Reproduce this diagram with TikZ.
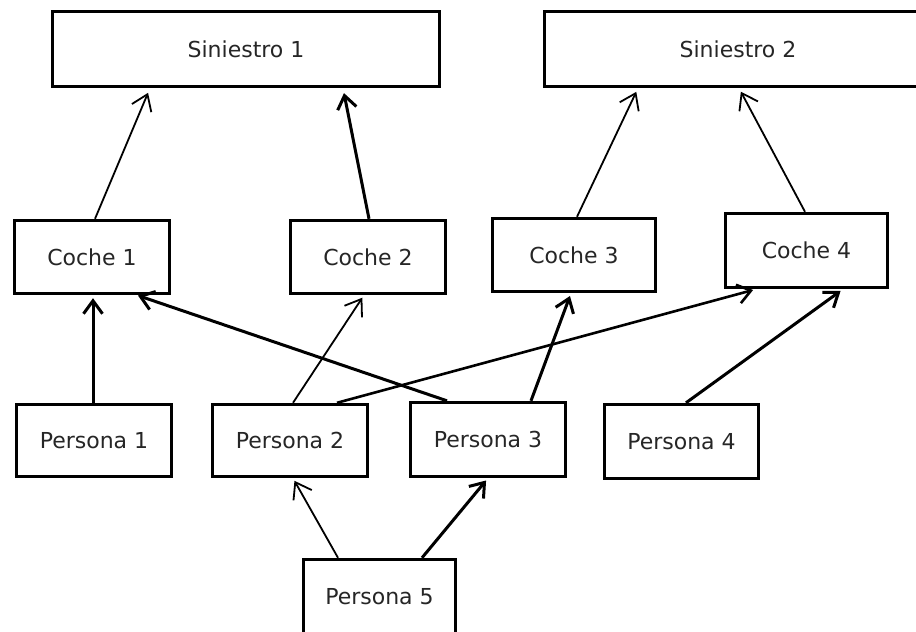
\documentclass[tikz,border=0pt]{standalone}
\usepackage{fontspec}
\setmainfont{DejaVu Sans}
\usetikzlibrary{arrows.meta}
\begin{document}
\begin{tikzpicture}[x=1pt,y=-1pt,
  box/.style={draw=black,line width=3.4pt,fill=white,inner sep=0pt,
    text=black!85,font=\fontsize{22}{26}\selectfont},
  thin/.style={line width=1.8pt,-{Straight Barb[length=15pt,width=21pt]},shorten >=3pt},
  thick/.style={line width=3pt,-{Straight Barb[length=13pt,width=19pt]},shorten >=3pt}]
\useasboundingbox (0,0) rectangle (916,632);
\clip (0,0) rectangle (916,632);
\fill[white] (0,0) rectangle (916,632);

% accidents
\node[box,minimum width=387pt,minimum height=75pt] (s1) at (246,49) {Siniestro 1};
\node[box,minimum width=387pt,minimum height=75pt] (s2) at (738,49) {Siniestro 2};

% cars
\node[box,minimum width=155pt,minimum height=73pt] (c1) at (92,257) {Coche 1};
\node[box,minimum width=155pt,minimum height=73pt] (c2) at (368,257) {Coche 2};
\node[box,minimum width=163pt,minimum height=73pt] (c3) at (574,255) {Coche 3};
\node[box,minimum width=162pt,minimum height=74pt] (c4) at (806.5,250.5) {Coche 4};

% people
\node[box,minimum width=155pt,minimum height=72pt] (p1) at (94,440.5) {Persona 1};
\node[box,minimum width=155pt,minimum height=72pt] (p2) at (290,440.5) {Persona 2};
\node[box,minimum width=155pt,minimum height=74pt] (p3) at (488,439.5) {Persona 3};
\node[box,minimum width=154pt,minimum height=74pt] (p4) at (681.5,441.5) {Persona 4};
\node[box,minimum width=152pt,minimum height=75pt] (p5) at (379.5,597) {Persona 5};

% cars to accidents
\draw[thin,shorten >=5pt] ([xshift=3pt]c1.north) -- ([xshift=-96pt]s1.south);
\draw[thick,shorten >=5pt] ([xshift=1pt]c2.north) -- ([xshift=97pt]s1.south);
\draw[thin,shorten >=4pt] ([xshift=3pt]c3.north) -- ([xshift=-100pt]s2.south);
\draw[thin,shorten >=4pt] ([xshift=-1.5pt]c4.north) -- ([xshift=1pt]s2.south);

% people to cars
\draw[thick] ([xshift=-1pt]p1.north) -- ([xshift=1pt]c1.south);
\draw[thick,shorten >=1pt] ([xshift=-41pt]p3.north) -- ([xshift=45pt]c1.south);
\draw[thin] ([xshift=3pt]p2.north) -- ([xshift=-4pt]c2.south);
\draw[thick,line width=2.6pt] ([xshift=47pt]p2.north) -- ([xshift=-50.5pt]c4.south);
\draw[thick] ([xshift=43pt]p3.north) -- ([xshift=-3pt]c3.south);
\draw[thick] ([xshift=4.5pt]p4.north) -- ([xshift=36.5pt]c4.south);

% person 5 to persons 2 and 3
\draw[thin] ([xshift=-41.5pt]p5.north) -- ([xshift=3pt]p2.south);
\draw[thick] ([xshift=42.5pt]p5.north) -- ([xshift=0pt]p3.south);
\end{tikzpicture}
\end{document}
